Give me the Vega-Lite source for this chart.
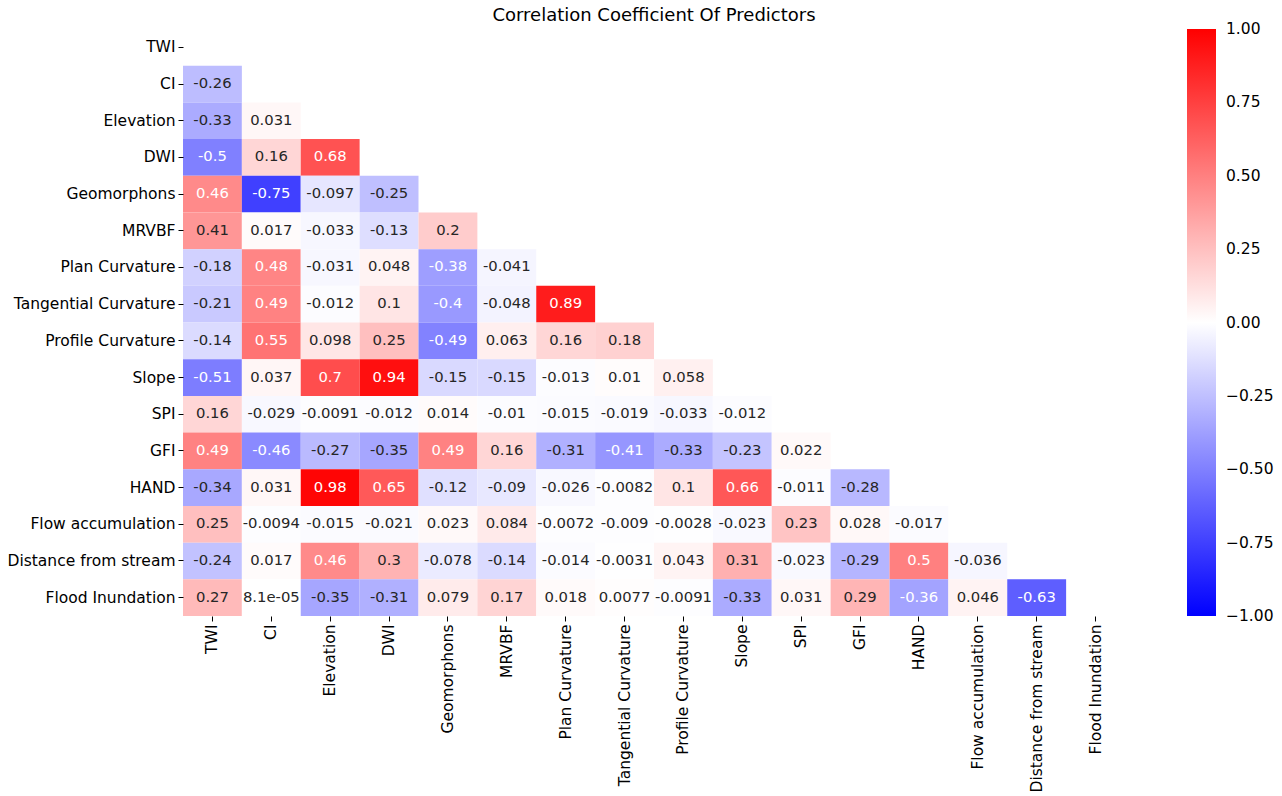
{
  "$schema": "https://vega.github.io/schema/vega-lite/v6.json",
  "autosize": {"type": "none"},
  "padding": {"left": 183, "top": 29, "right": 157, "bottom": 180},
  "width": 942,
  "height": 587,
  "config": {
    "font": "DejaVu Sans",
    "view": {"stroke": null},
    "text": {"font": "DejaVu Sans"},
    "axis": {"labelFont": "DejaVu Sans", "labelFontSize": 15.5, "labelColor": "#000000", "tickColor": "#000000", "tickSize": 5, "domain": false, "labelPadding": 3, "title": null, "labelLimit": 400},
    "legend": {"labelFont": "DejaVu Sans"}
  },
  "title": {"text": "Correlation Coefficient Of Predictors", "font": "DejaVu Sans", "fontSize": 18, "fontWeight": "normal", "color": "#000000", "anchor": "middle", "offset": 4},
  "data": {"values": [
    {"r": "CI", "c": "TWI", "v": -0.26, "t": "-0.26"},
    {"r": "Elevation", "c": "TWI", "v": -0.33, "t": "-0.33"},
    {"r": "Elevation", "c": "CI", "v": 0.031, "t": "0.031"},
    {"r": "DWI", "c": "TWI", "v": -0.5, "t": "-0.5"},
    {"r": "DWI", "c": "CI", "v": 0.16, "t": "0.16"},
    {"r": "DWI", "c": "Elevation", "v": 0.68, "t": "0.68"},
    {"r": "Geomorphons", "c": "TWI", "v": 0.46, "t": "0.46"},
    {"r": "Geomorphons", "c": "CI", "v": -0.75, "t": "-0.75"},
    {"r": "Geomorphons", "c": "Elevation", "v": -0.097, "t": "-0.097"},
    {"r": "Geomorphons", "c": "DWI", "v": -0.25, "t": "-0.25"},
    {"r": "MRVBF", "c": "TWI", "v": 0.41, "t": "0.41"},
    {"r": "MRVBF", "c": "CI", "v": 0.017, "t": "0.017"},
    {"r": "MRVBF", "c": "Elevation", "v": -0.033, "t": "-0.033"},
    {"r": "MRVBF", "c": "DWI", "v": -0.13, "t": "-0.13"},
    {"r": "MRVBF", "c": "Geomorphons", "v": 0.2, "t": "0.2"},
    {"r": "Plan Curvature", "c": "TWI", "v": -0.18, "t": "-0.18"},
    {"r": "Plan Curvature", "c": "CI", "v": 0.48, "t": "0.48"},
    {"r": "Plan Curvature", "c": "Elevation", "v": -0.031, "t": "-0.031"},
    {"r": "Plan Curvature", "c": "DWI", "v": 0.048, "t": "0.048"},
    {"r": "Plan Curvature", "c": "Geomorphons", "v": -0.38, "t": "-0.38"},
    {"r": "Plan Curvature", "c": "MRVBF", "v": -0.041, "t": "-0.041"},
    {"r": "Tangential Curvature", "c": "TWI", "v": -0.21, "t": "-0.21"},
    {"r": "Tangential Curvature", "c": "CI", "v": 0.49, "t": "0.49"},
    {"r": "Tangential Curvature", "c": "Elevation", "v": -0.012, "t": "-0.012"},
    {"r": "Tangential Curvature", "c": "DWI", "v": 0.1, "t": "0.1"},
    {"r": "Tangential Curvature", "c": "Geomorphons", "v": -0.4, "t": "-0.4"},
    {"r": "Tangential Curvature", "c": "MRVBF", "v": -0.048, "t": "-0.048"},
    {"r": "Tangential Curvature", "c": "Plan Curvature", "v": 0.89, "t": "0.89"},
    {"r": "Profile Curvature", "c": "TWI", "v": -0.14, "t": "-0.14"},
    {"r": "Profile Curvature", "c": "CI", "v": 0.55, "t": "0.55"},
    {"r": "Profile Curvature", "c": "Elevation", "v": 0.098, "t": "0.098"},
    {"r": "Profile Curvature", "c": "DWI", "v": 0.25, "t": "0.25"},
    {"r": "Profile Curvature", "c": "Geomorphons", "v": -0.49, "t": "-0.49"},
    {"r": "Profile Curvature", "c": "MRVBF", "v": 0.063, "t": "0.063"},
    {"r": "Profile Curvature", "c": "Plan Curvature", "v": 0.16, "t": "0.16"},
    {"r": "Profile Curvature", "c": "Tangential Curvature", "v": 0.18, "t": "0.18"},
    {"r": "Slope", "c": "TWI", "v": -0.51, "t": "-0.51"},
    {"r": "Slope", "c": "CI", "v": 0.037, "t": "0.037"},
    {"r": "Slope", "c": "Elevation", "v": 0.7, "t": "0.7"},
    {"r": "Slope", "c": "DWI", "v": 0.94, "t": "0.94"},
    {"r": "Slope", "c": "Geomorphons", "v": -0.15, "t": "-0.15"},
    {"r": "Slope", "c": "MRVBF", "v": -0.15, "t": "-0.15"},
    {"r": "Slope", "c": "Plan Curvature", "v": -0.013, "t": "-0.013"},
    {"r": "Slope", "c": "Tangential Curvature", "v": 0.01, "t": "0.01"},
    {"r": "Slope", "c": "Profile Curvature", "v": 0.058, "t": "0.058"},
    {"r": "SPI", "c": "TWI", "v": 0.16, "t": "0.16"},
    {"r": "SPI", "c": "CI", "v": -0.029, "t": "-0.029"},
    {"r": "SPI", "c": "Elevation", "v": -0.0091, "t": "-0.0091"},
    {"r": "SPI", "c": "DWI", "v": -0.012, "t": "-0.012"},
    {"r": "SPI", "c": "Geomorphons", "v": 0.014, "t": "0.014"},
    {"r": "SPI", "c": "MRVBF", "v": -0.01, "t": "-0.01"},
    {"r": "SPI", "c": "Plan Curvature", "v": -0.015, "t": "-0.015"},
    {"r": "SPI", "c": "Tangential Curvature", "v": -0.019, "t": "-0.019"},
    {"r": "SPI", "c": "Profile Curvature", "v": -0.033, "t": "-0.033"},
    {"r": "SPI", "c": "Slope", "v": -0.012, "t": "-0.012"},
    {"r": "GFI", "c": "TWI", "v": 0.49, "t": "0.49"},
    {"r": "GFI", "c": "CI", "v": -0.46, "t": "-0.46"},
    {"r": "GFI", "c": "Elevation", "v": -0.27, "t": "-0.27"},
    {"r": "GFI", "c": "DWI", "v": -0.35, "t": "-0.35"},
    {"r": "GFI", "c": "Geomorphons", "v": 0.49, "t": "0.49"},
    {"r": "GFI", "c": "MRVBF", "v": 0.16, "t": "0.16"},
    {"r": "GFI", "c": "Plan Curvature", "v": -0.31, "t": "-0.31"},
    {"r": "GFI", "c": "Tangential Curvature", "v": -0.41, "t": "-0.41"},
    {"r": "GFI", "c": "Profile Curvature", "v": -0.33, "t": "-0.33"},
    {"r": "GFI", "c": "Slope", "v": -0.23, "t": "-0.23"},
    {"r": "GFI", "c": "SPI", "v": 0.022, "t": "0.022"},
    {"r": "HAND", "c": "TWI", "v": -0.34, "t": "-0.34"},
    {"r": "HAND", "c": "CI", "v": 0.031, "t": "0.031"},
    {"r": "HAND", "c": "Elevation", "v": 0.98, "t": "0.98"},
    {"r": "HAND", "c": "DWI", "v": 0.65, "t": "0.65"},
    {"r": "HAND", "c": "Geomorphons", "v": -0.12, "t": "-0.12"},
    {"r": "HAND", "c": "MRVBF", "v": -0.09, "t": "-0.09"},
    {"r": "HAND", "c": "Plan Curvature", "v": -0.026, "t": "-0.026"},
    {"r": "HAND", "c": "Tangential Curvature", "v": -0.0082, "t": "-0.0082"},
    {"r": "HAND", "c": "Profile Curvature", "v": 0.1, "t": "0.1"},
    {"r": "HAND", "c": "Slope", "v": 0.66, "t": "0.66"},
    {"r": "HAND", "c": "SPI", "v": -0.011, "t": "-0.011"},
    {"r": "HAND", "c": "GFI", "v": -0.28, "t": "-0.28"},
    {"r": "Flow accumulation", "c": "TWI", "v": 0.25, "t": "0.25"},
    {"r": "Flow accumulation", "c": "CI", "v": -0.0094, "t": "-0.0094"},
    {"r": "Flow accumulation", "c": "Elevation", "v": -0.015, "t": "-0.015"},
    {"r": "Flow accumulation", "c": "DWI", "v": -0.021, "t": "-0.021"},
    {"r": "Flow accumulation", "c": "Geomorphons", "v": 0.023, "t": "0.023"},
    {"r": "Flow accumulation", "c": "MRVBF", "v": 0.084, "t": "0.084"},
    {"r": "Flow accumulation", "c": "Plan Curvature", "v": -0.0072, "t": "-0.0072"},
    {"r": "Flow accumulation", "c": "Tangential Curvature", "v": -0.009, "t": "-0.009"},
    {"r": "Flow accumulation", "c": "Profile Curvature", "v": -0.0028, "t": "-0.0028"},
    {"r": "Flow accumulation", "c": "Slope", "v": -0.023, "t": "-0.023"},
    {"r": "Flow accumulation", "c": "SPI", "v": 0.23, "t": "0.23"},
    {"r": "Flow accumulation", "c": "GFI", "v": 0.028, "t": "0.028"},
    {"r": "Flow accumulation", "c": "HAND", "v": -0.017, "t": "-0.017"},
    {"r": "Distance from stream", "c": "TWI", "v": -0.24, "t": "-0.24"},
    {"r": "Distance from stream", "c": "CI", "v": 0.017, "t": "0.017"},
    {"r": "Distance from stream", "c": "Elevation", "v": 0.46, "t": "0.46"},
    {"r": "Distance from stream", "c": "DWI", "v": 0.3, "t": "0.3"},
    {"r": "Distance from stream", "c": "Geomorphons", "v": -0.078, "t": "-0.078"},
    {"r": "Distance from stream", "c": "MRVBF", "v": -0.14, "t": "-0.14"},
    {"r": "Distance from stream", "c": "Plan Curvature", "v": -0.014, "t": "-0.014"},
    {"r": "Distance from stream", "c": "Tangential Curvature", "v": -0.0031, "t": "-0.0031"},
    {"r": "Distance from stream", "c": "Profile Curvature", "v": 0.043, "t": "0.043"},
    {"r": "Distance from stream", "c": "Slope", "v": 0.31, "t": "0.31"},
    {"r": "Distance from stream", "c": "SPI", "v": -0.023, "t": "-0.023"},
    {"r": "Distance from stream", "c": "GFI", "v": -0.29, "t": "-0.29"},
    {"r": "Distance from stream", "c": "HAND", "v": 0.5, "t": "0.5"},
    {"r": "Distance from stream", "c": "Flow accumulation", "v": -0.036, "t": "-0.036"},
    {"r": "Flood Inundation", "c": "TWI", "v": 0.27, "t": "0.27"},
    {"r": "Flood Inundation", "c": "CI", "v": 0.000081, "t": "8.1e-05"},
    {"r": "Flood Inundation", "c": "Elevation", "v": -0.35, "t": "-0.35"},
    {"r": "Flood Inundation", "c": "DWI", "v": -0.31, "t": "-0.31"},
    {"r": "Flood Inundation", "c": "Geomorphons", "v": 0.079, "t": "0.079"},
    {"r": "Flood Inundation", "c": "MRVBF", "v": 0.17, "t": "0.17"},
    {"r": "Flood Inundation", "c": "Plan Curvature", "v": 0.018, "t": "0.018"},
    {"r": "Flood Inundation", "c": "Tangential Curvature", "v": 0.0077, "t": "0.0077"},
    {"r": "Flood Inundation", "c": "Profile Curvature", "v": -0.0091, "t": "-0.0091"},
    {"r": "Flood Inundation", "c": "Slope", "v": -0.33, "t": "-0.33"},
    {"r": "Flood Inundation", "c": "SPI", "v": 0.031, "t": "0.031"},
    {"r": "Flood Inundation", "c": "GFI", "v": 0.29, "t": "0.29"},
    {"r": "Flood Inundation", "c": "HAND", "v": -0.36, "t": "-0.36"},
    {"r": "Flood Inundation", "c": "Flow accumulation", "v": 0.046, "t": "0.046"},
    {"r": "Flood Inundation", "c": "Distance from stream", "v": -0.63, "t": "-0.63"}
  ]},
  "encoding": {
    "x": {"field": "c", "type": "nominal", "sort": null,
      "scale": {"domain": ["TWI", "CI", "Elevation", "DWI", "Geomorphons", "MRVBF", "Plan Curvature", "Tangential Curvature", "Profile Curvature", "Slope", "SPI", "GFI", "HAND", "Flow accumulation", "Distance from stream", "Flood Inundation"], "paddingInner": 0, "paddingOuter": 0},
      "axis": {"labelAngle": -90, "labelAlign": "right", "labelBaseline": "middle"}},
    "y": {"field": "r", "type": "nominal", "sort": null,
      "scale": {"domain": ["TWI", "CI", "Elevation", "DWI", "Geomorphons", "MRVBF", "Plan Curvature", "Tangential Curvature", "Profile Curvature", "Slope", "SPI", "GFI", "HAND", "Flow accumulation", "Distance from stream", "Flood Inundation"], "paddingInner": 0, "paddingOuter": 0}}
  },
  "layer": [
    {
      "mark": {"type": "rect"},
      "encoding": {
        "color": {"field": "v", "type": "quantitative",
          "scale": {"domain": [-1, 0, 1], "range": ["#0000ff", "#ffffff", "#ff0000"], "interpolate": "rgb"},
          "legend": {"title": null, "direction": "vertical", "gradientLength": 587, "gradientThickness": 29, "gradientStrokeWidth": 0, "offset": 62, "labelFont": "DejaVu Sans", "labelFontSize": 15.5, "labelColor": "#000000", "labelOffset": 10, "labelBaseline": "middle", "values": [-1, -0.75, -0.5, -0.25, 0, 0.25, 0.5, 0.75, 1], "labelExpr": "replace(format(datum.value, '.2f'), '-', '−')",
            "encode": {"labels": {"update": {"baseline": {"value": "middle"}}}}}}
      }
    },
    {
      "mark": {"type": "text", "font": "DejaVu Sans", "fontSize": 14.8},
      "encoding": {
        "text": {"field": "t", "type": "nominal"},
        "color": {"condition": {"test": "datum.v > 0.43 || datum.v < -0.355", "value": "#ffffff"}, "value": "#262626"}
      }
    }
  ]
}
